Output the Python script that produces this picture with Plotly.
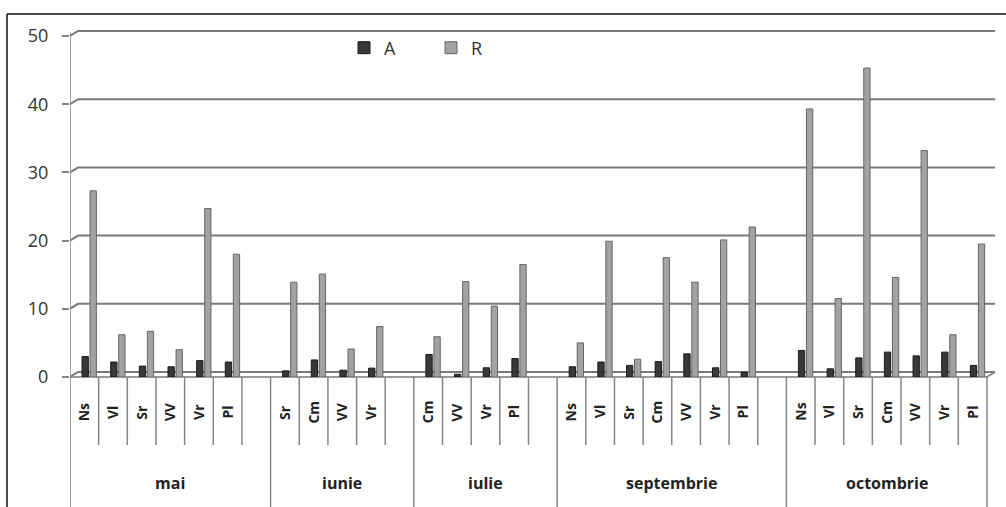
import plotly.graph_objects as go

# ---------------- data ----------------
months = ["mai", "iunie", "iulie", "septembrie", "octombrie"]

species_mai = ["Ns", "Vl", "Sr", "VV", "Vr", "Pl"]
species_iunie = ["Sr", "Cm", "VV", "Vr"]
species_iulie = ["Cm", "VV", "Vr", "Pl"]
species_septembrie = ["Ns", "Vl", "Sr", "Cm", "VV", "Vr", "Pl"]
species_octombrie = ["Ns", "Vl", "Sr", "Cm", "VV", "Vr", "Pl"]

A_mai = [3.0, 2.2, 1.6, 1.5, 2.4, 2.2]
R_mai = [27.3, 6.2, 6.7, 4.0, 24.7, 18.0]
A_iunie = [0.9, 2.5, 1.0, 1.3]
R_iunie = [13.9, 15.1, 4.1, 7.4]
A_iulie = [3.3, 0.4, 1.35, 2.7]
R_iulie = [5.9, 14.0, 10.4, 16.5]
A_septembrie = [1.5, 2.2, 1.7, 2.25, 3.4, 1.35, 0.7]
R_septembrie = [5.0, 19.9, 2.6, 17.5, 13.9, 20.1, 22.0]
A_octombrie = [3.9, 1.2, 2.8, 3.65, 3.1, 3.65, 1.7]
R_octombrie = [39.3, 11.5, 45.3, 14.6, 33.2, 6.2, 19.5]

y_ticks = [0, 10, 20, 30, 40, 50]

species_all = [species_mai, species_iunie, species_iulie, species_septembrie, species_octombrie]
A_all = [A_mai, A_iunie, A_iulie, A_septembrie, A_octombrie]
R_all = [R_mai, R_iunie, R_iulie, R_septembrie, R_octombrie]

# ---------------- layout geometry ----------------
W, H = 1006, 507
ML, MR, MT, MB = 70, 11, 36, 130
PW, PH = W - ML - MR, H - MT - MB
DEPTH_X = 0.28          # 3-D wall offset in category units
DEPTH_PX = 5            # 3-D wall offset in pixels (vertical)
Y_MAX = 50

def px_x(p):   # pixel -> paper x
    return (p - ML) / PW

def px_y(p):   # pixel -> paper y
    return (H - MB - p) / PH

# flatten categories (a blank slot closes every month but the last)
xs, labels, a_vals, r_vals, spans = [], [], [], [], []
pos = 0
for i, (m, sp, av, rv) in enumerate(zip(months, species_all, A_all, R_all)):
    start = pos
    for s, a, r in zip(sp, av, rv):
        xs.append(pos); labels.append(s); a_vals.append(a); r_vals.append(r)
        pos += 1
    if i < len(months) - 1:
        pos += 1
    spans.append((start - 0.5, pos - 0.5, len(sp)))
n_cat = pos
x_lo, x_hi = -0.5, n_cat - 0.5

line_col = "#858585"
fig = go.Figure()
fig.add_trace(go.Bar(x=xs, y=a_vals, name="A", width=0.22, offset=-0.08,
                     marker=dict(color="#383838", line=dict(color="#1a1a1a", width=1))))
fig.add_trace(go.Bar(x=xs, y=r_vals, name="R", width=0.22, offset=0.2,
                     marker=dict(color="#a2a2a2", line=dict(color="#666666", width=1))))

shapes = []
dy = DEPTH_PX / PH
# back-wall gridlines with the 3-D slant at the left
for v in y_ticks:
    yp = v / Y_MAX
    shapes.append(dict(type="path", xref="x", yref="paper", layer="below",
                       path=f"M {x_lo},{yp} L {x_lo + DEPTH_X},{yp + dy} L {x_hi + DEPTH_X},{yp + dy}",
                       line=dict(color="#7a7a7a", width=2)))
# front edge of the floor
shapes.append(dict(type="path", xref="x", yref="paper", layer="below",
                   path=f"M {x_lo},0 L {x_hi},0 L {x_hi + DEPTH_X},{dy}",
                   line=dict(color="#7a7a7a", width=1.5)))
# value axis line continuing down as the table's left border
shapes.append(dict(type="line", xref="x", yref="paper", x0=x_lo, x1=x_lo,
                   y0=px_y(H), y1=1 + 0.01, line=dict(color=line_col, width=1.5)))
short_bottom = px_y(445)
for (s0, s1, n) in spans:
    # month boundary (full height)
    shapes.append(dict(type="line", xref="x", yref="paper", x0=s1, x1=s1,
                       y0=px_y(H), y1=0, line=dict(color=line_col, width=1.5)))
    # species dividers
    for j in range(n):
        b = s0 + 1 + j
        if abs(b - s1) > 1e-9:
            shapes.append(dict(type="line", xref="x", yref="paper", x0=b, x1=b,
                               y0=short_bottom, y1=0, line=dict(color=line_col, width=1.5)))
# outer frame
shapes.append(dict(type="line", xref="paper", yref="paper", x0=px_x(7), x1=px_x(W),
                   y0=px_y(14), y1=px_y(14), line=dict(color="#111111", width=1.5)))
shapes.append(dict(type="line", xref="paper", yref="paper", x0=px_x(7), x1=px_x(7),
                   y0=px_y(14), y1=px_y(H), line=dict(color="#111111", width=1.5)))

annotations = []
for x, lab in zip(xs, labels):
    annotations.append(dict(x=x, y=px_y(412), xref="x", yref="paper", text=lab,
                            textangle=-90, showarrow=False, xanchor="center", yanchor="middle",
                            font=dict(family="Open Sans", size=14, color="#222222", weight="bold")))
for m, (s0, s1, n) in zip(months, spans):
    annotations.append(dict(x=(s0 + s1) / 2, y=px_y(483), xref="x", yref="paper", text=m,
                            showarrow=False, xanchor="center", yanchor="middle",
                            font=dict(family="Open Sans", size=16, color="#222222", weight="bold")))

fig.update_layout(
    width=W, height=H,
    margin=dict(l=ML, r=MR, t=MT, b=MB, autoexpand=False),
    paper_bgcolor="white", plot_bgcolor="white",
    barmode="overlay",
    showlegend=True,
    legend=dict(orientation="h", x=px_x(344), y=px_y(48), xanchor="left", yanchor="middle",
                font=dict(family="Open Sans", size=18, color="#333333"),
                entrywidth=42, entrywidthmode="pixels", bgcolor="rgba(0,0,0,0)"),
    xaxis=dict(range=[x_lo, x_hi + DEPTH_X], showgrid=False, zeroline=False,
               showticklabels=False, showline=False, ticks=""),
    yaxis=dict(range=[0, Y_MAX], tickvals=y_ticks, showgrid=False, zeroline=False,
               showline=False, ticks="outside", ticklen=7, tickcolor=line_col, tickwidth=1.5,
               ticklabelstandoff=10,
               tickfont=dict(family="Open Sans", size=18, color="#333333")),
    shapes=shapes, annotations=annotations,
)
fig.write_html("out.html", config={"displayModeBar": False},
               post_script="document.body.style.margin='0';document.body.style.padding='0';")
